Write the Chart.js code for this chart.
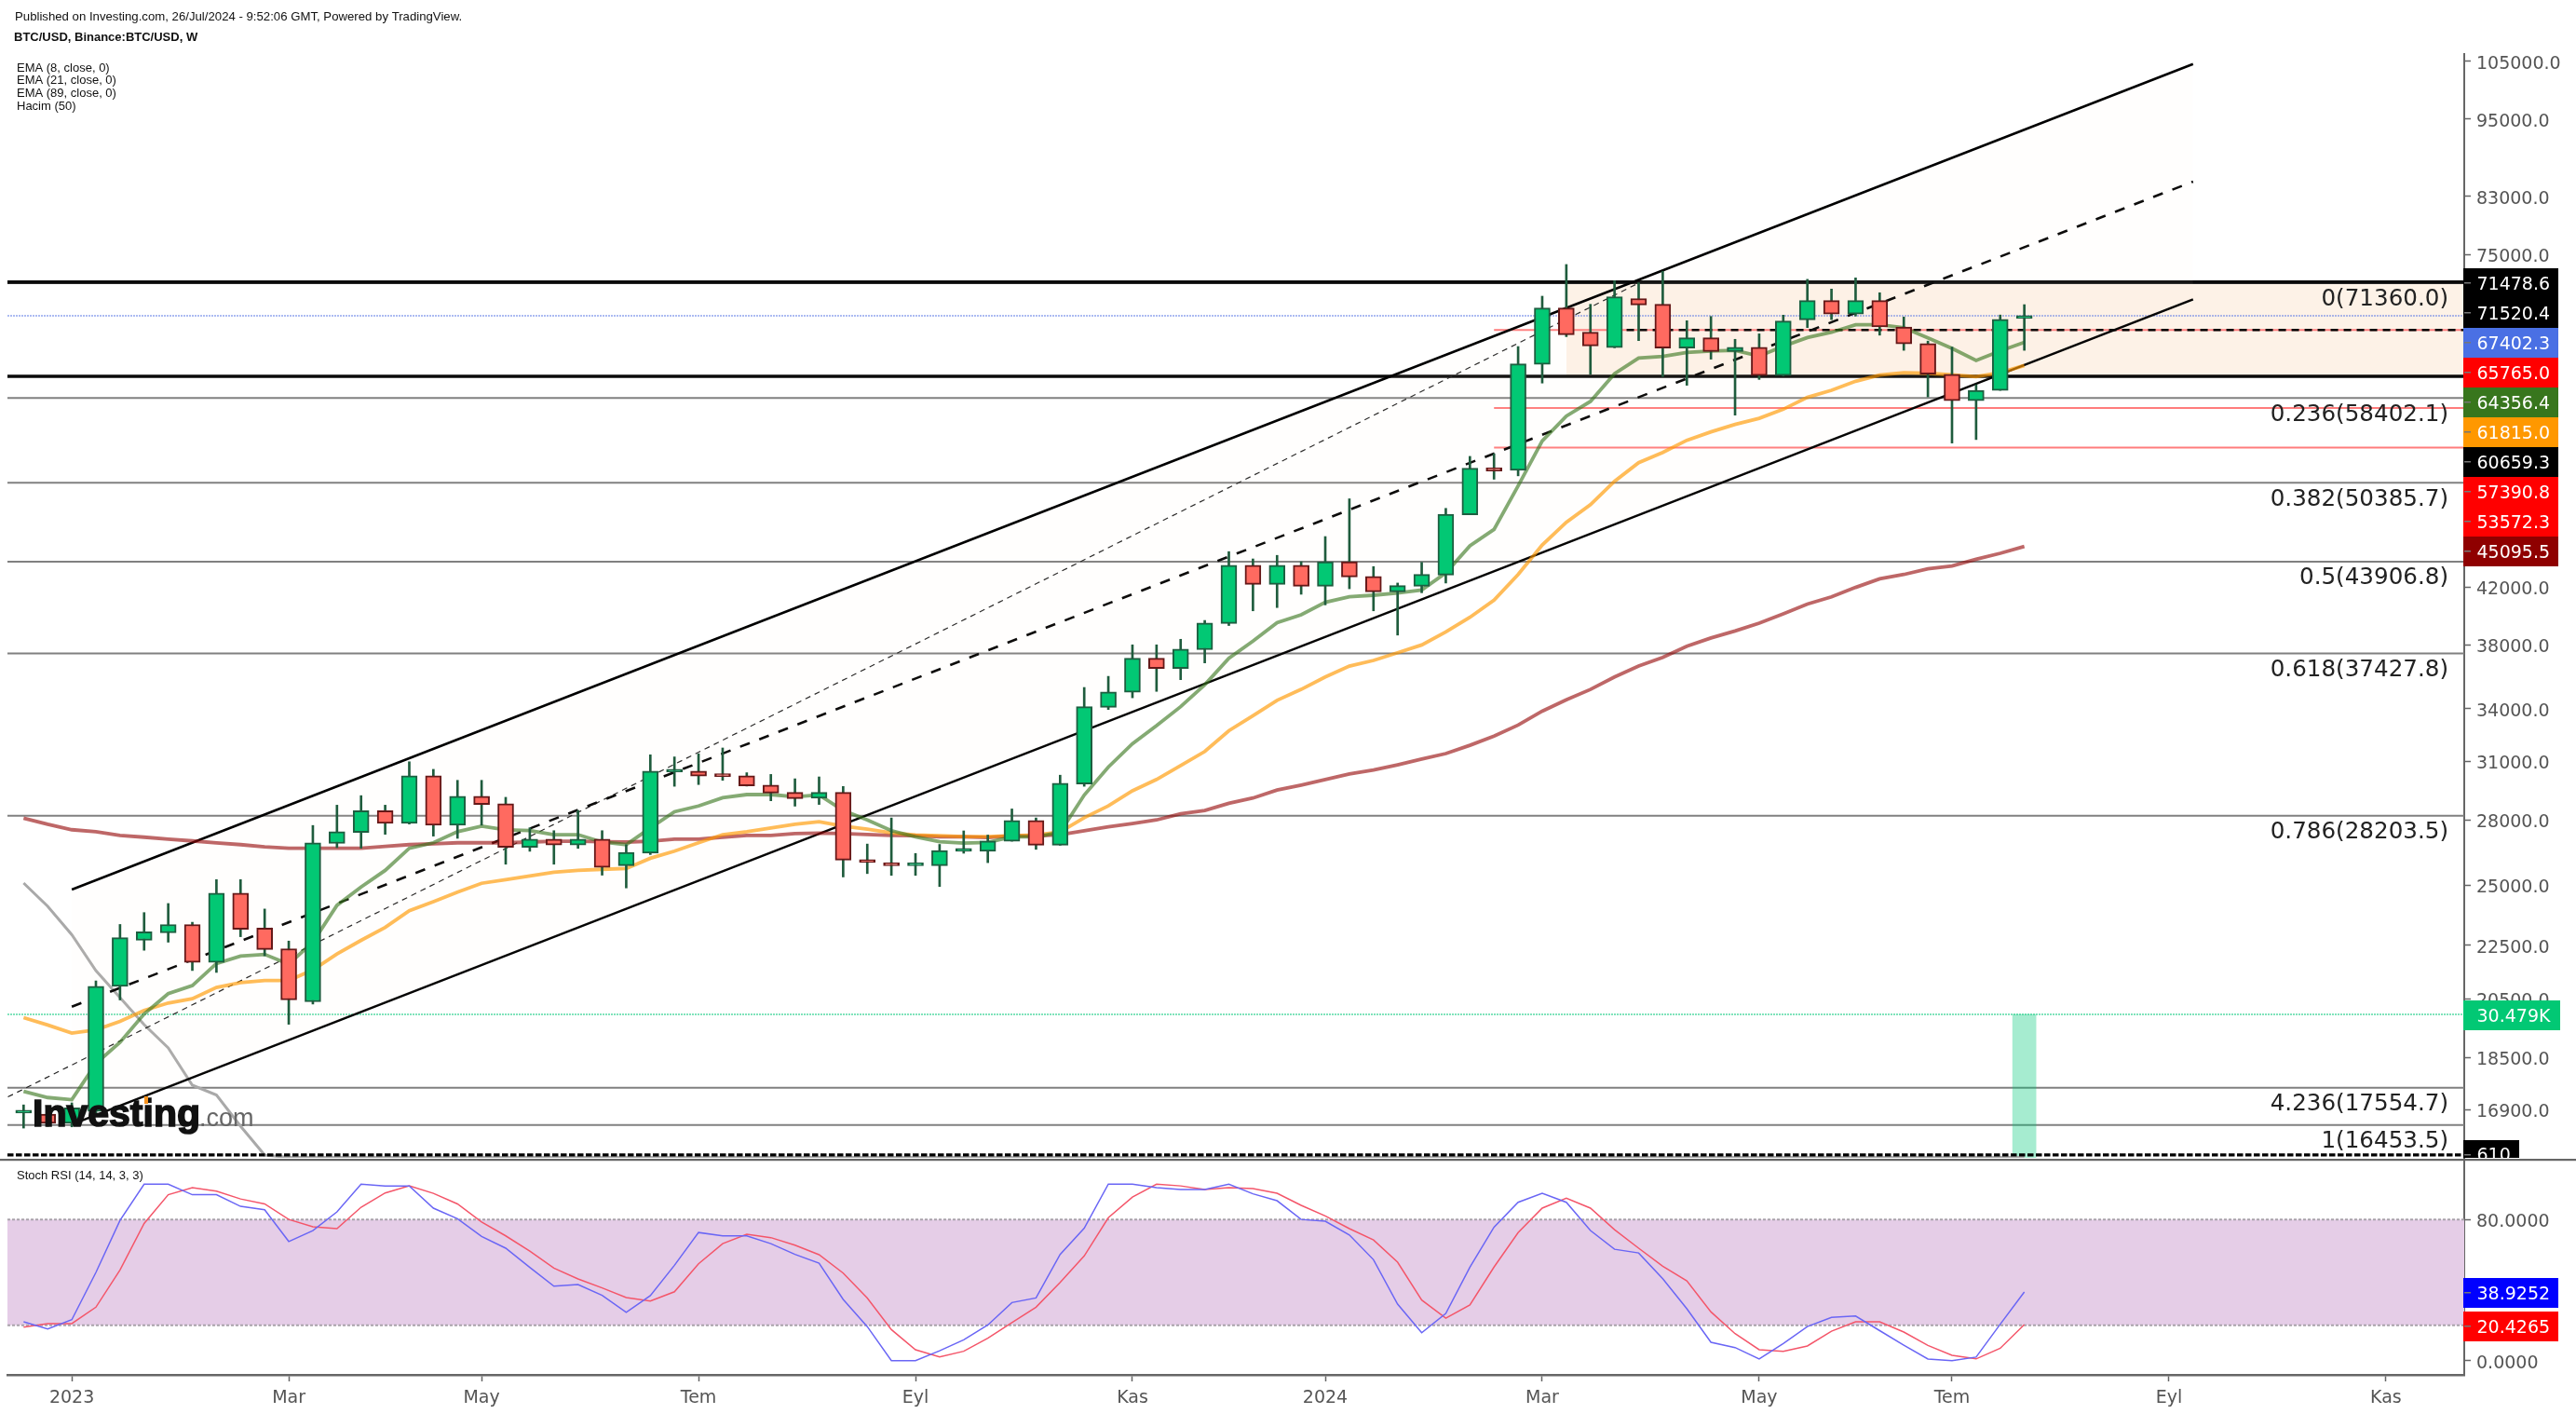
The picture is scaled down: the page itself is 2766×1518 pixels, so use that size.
<!DOCTYPE html>
<html><head><meta charset="utf-8">
<style>html,body{margin:0;padding:0;background:#fff;overflow:hidden}canvas{position:absolute;left:0;display:block}</style>
<script src="https://cdn.jsdelivr.net/npm/chart.js@4"></script>
</head><body>
<canvas id="main" width="2766" height="1243" style="top:0;width:2766px;height:1243px"></canvas>
<canvas id="stoch" width="2766" height="275" style="top:1243px;width:2766px;height:275px"></canvas>
<script>
const opens=[16800,16771,16505,16844,20950,22700,22995,23336,21843,24642,23189,22370,20392,26875,27395,28448,27835,30240,27745,29173,28800,26697,27080,26800,27080,25855,26428,30440,30480,30300,30240,29750,29380,29080,29380,26060,25975,25850,25850,26510,26510,26980,27970,26790,29803,34070,34970,37110,36460,37670,39430,43650,42210,43650,42070,43910,42800,41670,42070,42900,47650,51720,51500,61930,68330,65500,63780,69460,68770,63720,64870,63330,63820,60730,66940,69220,67600,69220,66110,64210,60880,58140,59190,67100];
const highs=[17040,16995,17100,21150,23336,23824,24204,23426,25233,25233,23973,22671,27730,28729,29210,28729,30987,30580,30000,30000,29125,27620,27480,28466,27480,26820,31365,31250,31420,31740,30400,30310,30080,30180,29680,26847,28096,26410,26830,27470,27270,28540,28096,30270,35270,35960,37990,37990,38360,39640,44690,44126,44400,43910,45880,49000,43540,42310,43860,48190,52760,53000,63890,69750,73710,68770,71650,71400,72850,66830,67330,64700,65320,67480,71830,70620,72010,70170,67260,64500,63830,59770,67500,68730];
const lows=[16365,16415,16400,16800,20459,22310,22627,21536,21465,22844,22096,19610,20314,26679,26655,27307,27800,27220,27115,27745,25920,26510,25920,26645,25430,24870,26360,29690,29780,30000,29700,28950,28680,28765,25350,25500,25420,25420,24930,26420,25990,26980,26600,26790,29690,33940,34640,35030,35750,36810,39290,40310,40540,41490,40730,41890,40310,38640,41600,42310,47650,50700,51000,59950,65000,60870,63750,64550,60630,59720,62500,56690,60330,60700,66040,66960,67380,65170,63470,58520,54000,54330,59190,63470];
const closes=[16844,16505,16950,20950,22803,23038,23336,21843,24642,23142,22339,20458,26906,27430,28448,27835,30240,27745,29173,28765,26697,27080,26800,27080,25775,26460,30480,30480,30220,30200,29710,29340,29061,29380,26106,26000,25850,25880,26550,26550,26990,27970,26790,29850,34110,35000,37110,36460,37710,39470,43650,42210,43650,42070,43910,42760,41670,42120,42950,47700,51680,51440,61990,68330,65220,63950,69670,68690,63720,64870,63330,63820,60730,66790,69220,67600,69220,66110,64180,60880,58140,59200,66980,67402];
const ema8=[17449,17260,17195,18310,19004,19966,20683,20977,21800,22083,22151,21780,22627,24127,24912,25642,26650,26906,27430,27695,27520,27490,27290,27290,26940,26820,27610,28400,28690,29100,29265,29265,29150,29245,28465,28000,27480,27190,26960,26890,26920,27190,27190,27400,29240,30700,31975,33000,34110,35440,37110,38240,39490,40030,40910,41310,41420,41580,41800,43060,45150,46450,50110,54200,56600,58060,60940,62630,62800,63240,63400,63470,62830,63920,64900,65500,66360,66360,66030,64870,63680,62360,63400,64356];
const ema21=[19837,19585,19310,19420,19712,20090,20350,20505,20910,21085,21166,21166,21560,22168,22700,23216,23898,24280,24690,25073,25235,25395,25560,25642,25690,25725,26190,26515,26906,27290,27430,27610,27790,27915,27703,27550,27375,27270,27240,27195,27195,27240,27270,27420,28110,28695,29460,30046,30780,31545,32710,33570,34490,35153,35920,36610,36970,37470,37980,38855,39856,41061,42945,45210,47035,48500,50517,52190,53125,54260,55060,55780,56380,57277,58470,59200,60140,60790,61050,60980,60820,60620,61050,61815];
const ema89=[28087,27790,27525,27430,27255,27170,27080,26995,26906,26820,26715,26650,26650,26650,26650,26735,26820,26855,26906,26906,26906,26940,26975,26975,26958,26940,26975,27080,27080,27170,27255,27255,27340,27360,27340,27300,27255,27240,27190,27190,27155,27230,27230,27285,27480,27660,27825,28000,28305,28460,28820,29090,29495,29755,30046,30340,30540,30820,31130,31430,31889,32400,33031,33845,34525,35150,35920,36610,37170,37900,38450,38920,39450,40100,40790,41300,41990,42620,42945,43370,43585,44100,44560,45095];
const stochK=[22,18,23.2,50,79.5,100,100,94,94,87.4,85.5,67.5,73.7,84.3,100,99,99,86.4,80.4,70.4,63.7,52.8,42.2,43.1,37,27.4,36.8,54,72.6,70.7,70.7,66.3,60.2,55.2,34.7,19.3,0,0,5.6,11.8,20.2,32.9,35.5,60.2,75,100,100,98,97,97,100,94.5,90.6,80,79,71.2,57.2,32,15.8,26.7,53,75.6,89.7,94.8,89.7,73.7,63.1,61,46.4,29.4,10.4,7.4,1,9.7,19.3,24.5,25.3,17,8.8,0.9,0,2,20.6,38.9252];
const stochD=[19,21,21,30.3,51.4,77.7,94,98,96,91.6,88.8,80,75.8,74.8,86.9,95,99,94.8,88.8,78.6,70.7,62,52.4,46.3,41.2,35.7,33.8,39,54.9,66.3,71.6,69.7,65.4,60,49.6,35.5,17.6,6.2,2.1,5.3,12.7,21.5,30.3,44.3,59.3,81,92.7,100,99,97,98,97.5,94.8,88,82,74.8,68.4,55.8,34.3,24.1,31.5,53,72.5,86.4,92,86.4,74.2,63.7,53.5,45.2,27.6,15.3,6.2,5.3,8.3,16.7,22,22,16.2,8.6,3,1,7,20.4265];
const volumeMA=[1177000,615000,279000,103000,48600,22900,12000,4260,3235,1361,610,570];
const volumeLastIndex=83, volumeLast=30479, volumeLine=610, volumeFloor=564;
const xTickIndex=[2,11,19,28,37,46,54,63,72,80,89,98];
const xTickLabels=["2023","Mar","May","Tem","Eyl","Kas","2024","Mar","May","Tem","Eyl","Kas"];
const priceTicks=[105000,95000,83000,75000,42000,38000,34000,31000,28000,25000,22500,20500,18500,16900];
const stochTicks=[0,80];
const fibLevels=[71360,58402.1,50385.7,43906.8,37427.8,28203.5,17554.7,16453.5];
const fibLabels=["0(71360.0)","0.236(58402.1)","0.382(50385.7)","0.5(43906.8)","0.618(37427.8)","0.786(28203.5)","4.236(17554.7)","1(16453.5)"];
const zoneTop=71478.6, zoneBottom=60659.3, zoneFrom=64;
const redLevels=[65765,57390.8,53572.3], redFrom=61;
const dashLevel=65765, dashFrom=66.5, lastPrice=67402.3;
const channelUpper=[{x:2,y:24800},{x:90,y:104540}];
const channelMiddle=[{x:2,y:20220},{x:90,y:85170}];
const channelLower=[{x:2,y:16470},{x:90,y:69370}];
const trendDotted=[{x:-0.65,y:17280},{x:67,y:71360}];
const priceTags=["71478.6","71520.4","67402.3","65765.0","64356.4","61815.0","60659.3","57390.8","53572.3","45095.5"];
const priceTagColors=["#000000","#000000","#4a70e4","#ff0000","#38761d","#ff9800","#000000","#ff0000","#ff0000","#8f0000"];
const xMin=-0.67, xMax=101.25;
const GREEN='#02c874',RED='#ff6a60',GB='#1d5e40',RB='#651818',WICK='#1f5c3d';
const axisFont={family:'"DejaVu Sans"',size:19};
Chart.defaults.font.family='"DejaVu Sans"';
const idx=opens.map((_,i)=>i);
const hline=(y,from=xMin)=>[{x:from,y},{x:xMax,y}];
const series=a=>a.map((y,x)=>({x,y}));
const line=(label,data,color,width,order,extra={})=>({type:'line',label,data,borderColor:color,borderWidth:width,pointRadius:0,tension:0,fill:false,order,yAxisID:'y',...extra});
const xHidden={type:'linear',min:xMin,max:xMax,offset:false,display:false,grid:{offset:false}};
function fixY(s){s.width=120;s.paddingTop=0;s.paddingBottom=0;}

const mainOverlay={id:'mainOverlay',afterDraw(c){
  const g=c.ctx,y=c.scales.y;
  g.save();
  g.textBaseline='middle';g.textAlign='left';g.fillStyle='#111';
  g.font='13.2px "Liberation Sans"';g.fillText('Published on Investing.com, 26/Jul/2024 - 9:52:06 GMT, Powered by TradingView.',16,18);
  g.font='bold 13px "Liberation Sans"';g.fillText('BTC/USD, Binance:BTC/USD, W',15,40.5);
  g.font='13px "Liberation Sans"';
  ['EMA (8, close, 0)','EMA (21, close, 0)','EMA (89, close, 0)','Hacim (50)'].forEach((t,i)=>g.fillText(t,18,[73.5,86.5,100.5,114.5][i]));
  g.font='24.6px "DejaVu Sans"';g.fillStyle='#222';g.textAlign='right';
  fibLevels.forEach((v,i)=>g.fillText(fibLabels[i],2629,y.getPixelForValue(v)+18));
  g.textAlign='left';
  g.save();g.filter='blur(0.7px)';g.textBaseline='alphabetic';
  g.font='bold 41px "Liberation Sans"';g.fillStyle='#111';g.strokeStyle='#111';g.lineWidth=1.6;
  g.fillText('Investing',35,1209);g.strokeText('Investing',35,1209);
  g.font='27px "Liberation Sans"';g.fillStyle='#666';g.fillText('.com',214,1209);
  g.fillStyle='#f7931e';g.fillRect(155,1177,4,8);g.restore();
  g.font=axisFont.size+'px "DejaVu Sans"';
  priceTags.forEach((t,i)=>{
    const top=288+32*i;
    g.fillStyle=priceTagColors[i];g.fillRect(2645,top,102,32);
    g.fillStyle='#777';g.fillRect(2646,top+15,7,1.5);
    g.fillStyle='#fff';g.fillText(t,2659.5,top+18);
  });
  g.beginPath();g.rect(0,0,2766,1243);g.clip();
  g.fillStyle='#02c874';g.fillRect(2645,1074,104,32);
  g.fillStyle='#fff';g.fillText('30.479K',2659.5,1092);
  g.fillStyle='#000';g.fillRect(2645,1224,60,20);
  g.fillStyle='#777';g.fillRect(2646,1239,7,1.5);
  g.fillStyle='#fff';g.fillText('610',2659.5,1241);
  g.restore();
}};

new Chart(document.getElementById('main'),{
  type:'bar',
  data:{datasets:[
    {type:'bar',label:'Wicks',data:idx.map(i=>({x:i,y:[lows[i],highs[i]]})),backgroundColor:WICK,borderWidth:0,barThickness:2,grouped:false,order:11,yAxisID:'y'},
    {type:'bar',label:'Candles',data:idx.map(i=>({x:i,y:[opens[i],closes[i]]})),
      backgroundColor:idx.map(i=>closes[i]>=opens[i]?GREEN:RED),
      borderColor:idx.map(i=>closes[i]>=opens[i]?GB:RB),
      borderWidth:2,borderSkipped:false,minBarLength:3,barThickness:17,grouped:false,order:10,yAxisID:'y'},
    {type:'bar',label:'Hacim',data:[{x:volumeLastIndex,y:[volumeFloor,volumeLast]}],backgroundColor:'rgba(0,200,120,0.35)',borderWidth:0,barThickness:25,grouped:false,order:35,yAxisID:'yVol'},
    line('EMA 8',series(ema8),'rgba(56,118,29,0.62)',3.8,20),
    line('EMA 21',series(ema21),'rgba(255,152,0,0.65)',3.8,21),
    line('EMA 89',series(ema89),'rgba(150,10,10,0.62)',3.8,22),
    line('Hacim MA',series(volumeMA.concat(idx.slice(volumeMA.length).map(()=>volumeMA[volumeMA.length-1]))),'#a9a9a9',3,34,{yAxisID:'yVol'}),
    line('Channel upper',channelUpper,'#000',2.6,30,{fill:'+1',backgroundColor:'rgba(255,243,214,0.05)'}),
    line('Channel lower',channelLower,'#000',2.6,30),
    line('Channel middle',channelMiddle,'#000',2.6,31,{borderDash:[11,11]}),
    line('Trend',trendDotted,'#222',1.2,32,{borderDash:[6,5]}),
    line('Zone',hline(zoneTop,zoneFrom),'rgba(0,0,0,0)',0,60,{fill:{value:zoneBottom},backgroundColor:'#fdf2e7'}),
    line('Res top',hline(zoneTop),'#0a0a0a',3.8,40),
    line('Res bottom',hline(zoneBottom),'#0a0a0a',3.6,40),
    line('Last',hline(lastPrice),'rgba(90,120,230,0.5)',2,42,{borderDash:[2,1]}),
    line('Volume level',hline(volumeLast),'rgba(0,200,120,0.5)',2,42,{borderDash:[2,1],yAxisID:'yVol'}),
    line('Volume line',hline(volumeLine),'#000',3.2,33,{borderDash:[6.5,2.5],yAxisID:'yVol'}),
    ...fibLevels.map(v=>line('Fib '+v,hline(v),'#808080',2,45)),
    ...redLevels.map(v=>line('Red '+v,hline(v,redFrom),'#ff7c7c',2,41)),
    line('Dash',hline(dashLevel,dashFrom),'#000',2.6,39,{borderDash:[8,6]})
  ]},
  options:{responsive:false,animation:false,devicePixelRatio:1,
    layout:{padding:{left:8,top:58,right:0,bottom:0}},
    plugins:{legend:{display:false},tooltip:{enabled:false},title:{display:false}},
    scales:{
      x:xHidden,
      y:{type:'logarithmic',position:'right',min:15538,max:106372,bounds:'data',
        afterFit:fixY,
        afterBuildTicks:s=>{s.ticks=priceTicks.map(value=>({value}));},
        border:{display:true,color:'#666',width:2},
        grid:{drawOnChartArea:false,drawTicks:true,tickLength:7,tickColor:'#666',tickWidth:1.5},
        ticks:{autoSkip:false,padding:6,labelOffset:3,color:'#555',font:axisFont,major:{enabled:false},callback:v=>Number(v).toFixed(1)}},
      yVol:{type:'logarithmic',display:false,position:'left',min:564,max:1.212e16,bounds:'data',grid:{display:false}}
    }},
  plugins:[mainOverlay]
});

const stochOverlay={id:'stochOverlay',afterDraw(c){
  const g=c.ctx;g.save();
  g.fillStyle='#666';g.fillRect(0,1,2766,2.2);
  g.textBaseline='middle';g.textAlign='left';
  g.font='13px "Liberation Sans"';g.fillStyle='#111';g.fillText('Stoch RSI (14, 14, 3, 3)',18,19);
  g.font='19px "DejaVu Sans"';
  [['38.9252','#0000ff',129],['20.4265','#ff0000',165]].forEach(([t,col,top])=>{
    g.fillStyle=col;g.fillRect(2645,top,102,32);
    g.fillStyle='#777';g.fillRect(2646,top+15,7,1.5);
    g.fillStyle='#fff';g.fillText(t,2659.5,top+18);
  });
  g.restore();
}};
new Chart(document.getElementById('stoch'),{
  type:'line',
  data:{datasets:[
    line('%K',series(stochK),'#6a66f5',1.5,1),
    line('%D',series(stochD),'#f4566a',1.5,2),
    line('Band',hline(80),'rgba(0,0,0,0)',0,10,{fill:{value:20},backgroundColor:'#e5cde7'}),
    line('Upper band',hline(80),'#a9a3aa',2,5,{borderDash:[3,2]}),
    line('Lower band',hline(20),'#a9a3aa',2,5,{borderDash:[3,2]})
  ]},
  options:{responsive:false,animation:false,devicePixelRatio:1,
    layout:{padding:{left:8,top:0,right:0,bottom:0}},
    plugins:{legend:{display:false},tooltip:{enabled:false}},
    scales:{
      x:{type:'linear',min:xMin,max:xMax,offset:false,
        afterFit:s=>{s.height=42;s.paddingLeft=0;s.paddingRight=0;},
        afterBuildTicks:s=>{s.ticks=xTickIndex.map(value=>({value}));},
        border:{display:true,color:'#666',width:2.5},
        grid:{drawOnChartArea:false,drawTicks:true,tickLength:7,tickColor:'#666',tickWidth:1.5},
        ticks:{autoSkip:false,maxRotation:0,minRotation:0,padding:7,color:'#555',font:axisFont,callback:v=>xTickLabels[xTickIndex.indexOf(v)]}},
      y:{type:'linear',position:'right',min:-8.07,max:114.9,
        afterFit:fixY,
        afterBuildTicks:s=>{s.ticks=stochTicks.map(value=>({value}));},
        border:{display:true,color:'#666',width:2},
        grid:{drawOnChartArea:false,drawTicks:true,tickLength:7,tickColor:'#666',tickWidth:1.5},
        ticks:{autoSkip:false,padding:6,labelOffset:3,color:'#555',font:axisFont,callback:v=>Number(v).toFixed(4)}}
    }},
  plugins:[stochOverlay]
});
</script>
</body></html>
